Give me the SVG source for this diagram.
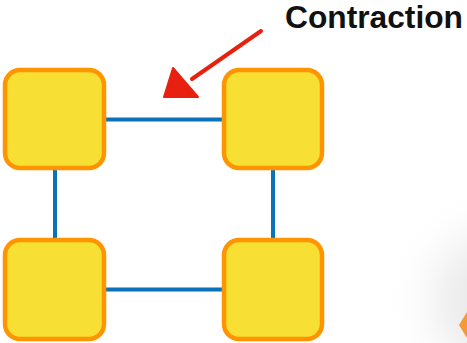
<svg xmlns="http://www.w3.org/2000/svg" width="467" height="343" viewBox="0 0 467 343">
<style>
.box{fill:#f8df33;stroke:#fe9500;stroke-width:4.5}
.edge{stroke:#0a72b8;stroke-width:4;fill:none}
.lbl{font-family:"Liberation Sans",Arial,sans-serif;font-weight:bold;font-size:31px;fill:#111}
</style>
<defs>
<radialGradient id="sh" cx="500" cy="300" r="115" gradientUnits="userSpaceOnUse">
<stop offset="0" stop-color="#e2e2e2"/>
<stop offset="0.5" stop-color="#f2f2f2"/>
<stop offset="1" stop-color="#ffffff" stop-opacity="0"/>
</radialGradient>
</defs>
<rect width="467" height="343" fill="#fff"/>
<rect x="360" y="180" width="107" height="163" fill="url(#sh)"/>
<path d="M467 312 L459 325 L467 338 Z" fill="#f39a34"/>
<g id="edges">
<line class="edge" x1="104" y1="119.5" x2="224" y2="119.5"/>
<line class="edge" x1="104" y1="289.5" x2="224" y2="289.5"/>
<line class="edge" x1="55" y1="168" x2="55" y2="240"/>
<line class="edge" x1="273" y1="168" x2="273" y2="240"/>
</g>
<g id="n1"><rect class="box" x="5" y="70" width="99" height="98" rx="15"/></g>
<g id="n2"><rect class="box" x="224" y="70" width="98" height="98" rx="15"/></g>
<g id="n3"><rect class="box" x="5" y="240" width="99" height="99" rx="15"/></g>
<g id="n4"><rect class="box" x="224" y="240" width="98" height="99" rx="15"/></g>
<g id="arrow">
<path d="M261 31 L192 79" stroke="#e8200f" stroke-width="4" stroke-linecap="round" fill="none"/>
<path d="M173 68 L164 97 L198 97 Z" fill="#e8200f" stroke="#e8200f" stroke-width="2" stroke-linejoin="round"/>
</g>
<text class="lbl" x="285" y="28" textLength="178" lengthAdjust="spacingAndGlyphs">Contraction</text>
</svg>
